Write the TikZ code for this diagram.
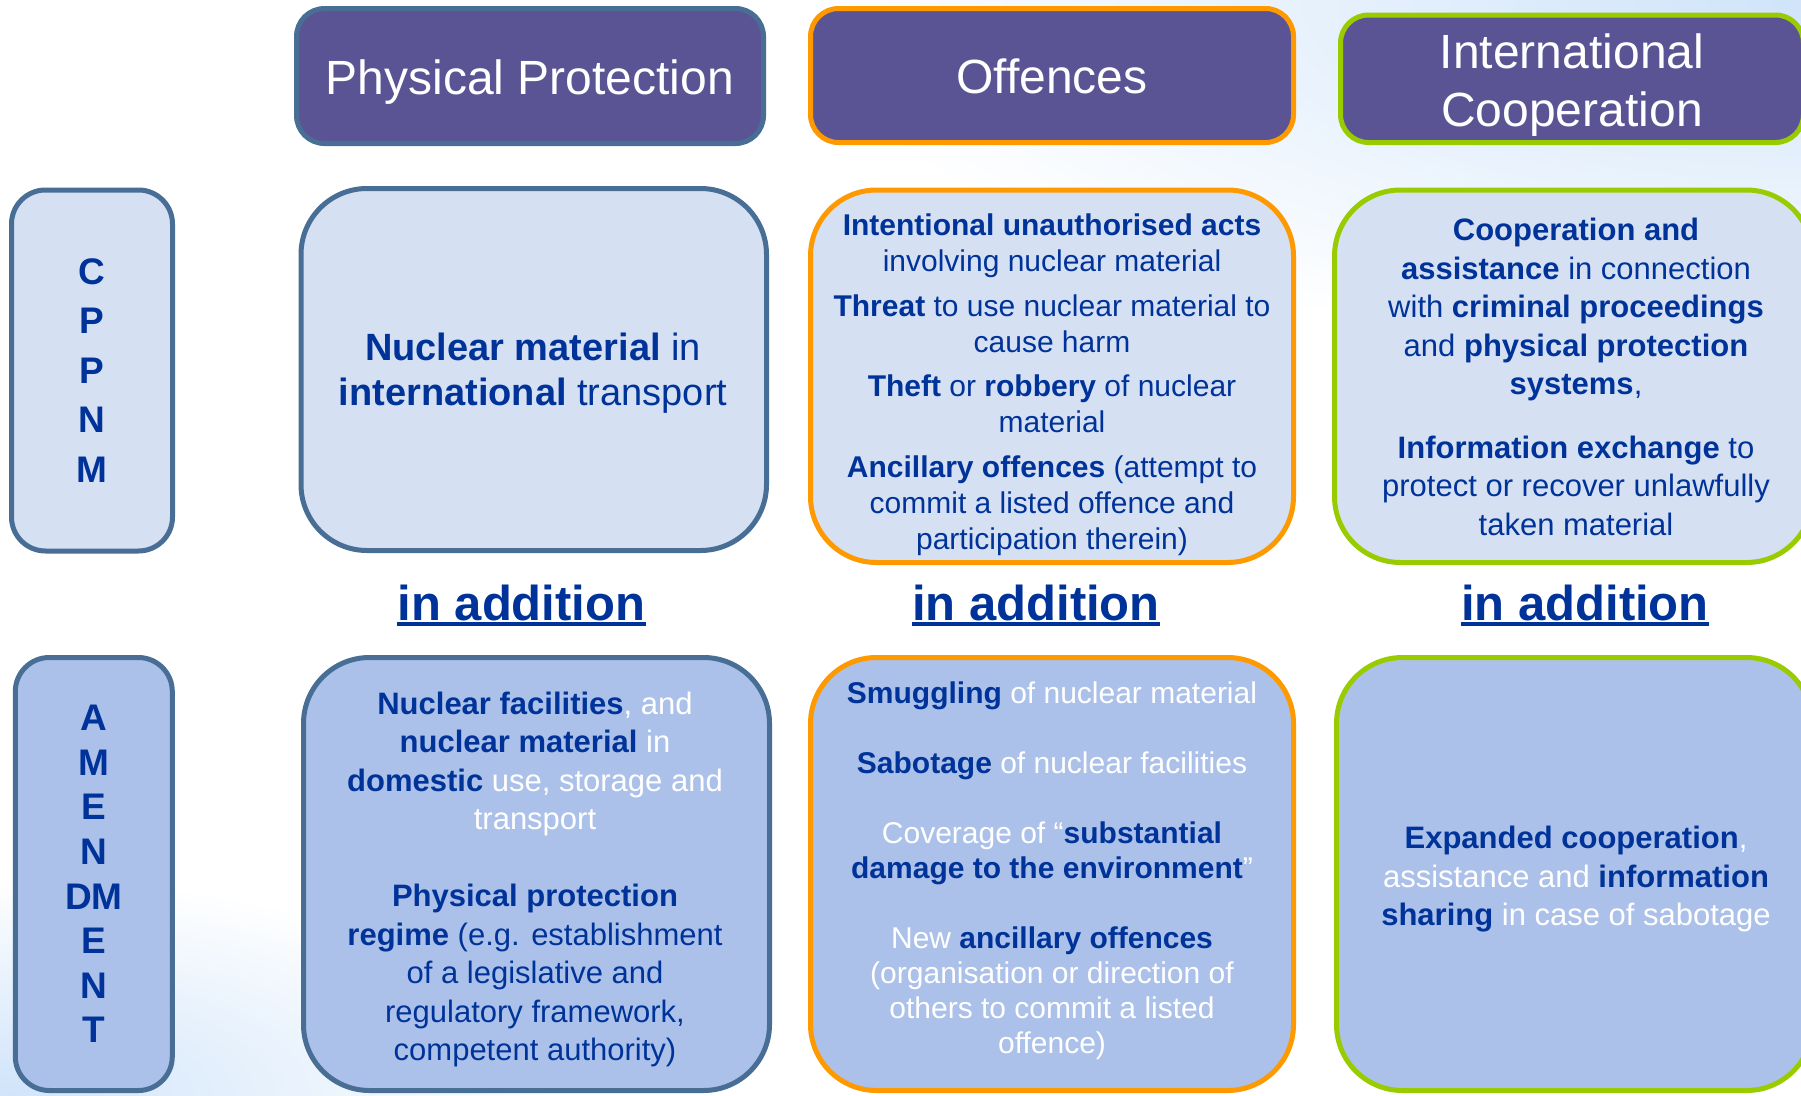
\documentclass[tikz,border=0pt]{standalone}
\usepackage{fontspec}
\setmainfont{Liberation Sans}
\definecolor{hdr}{RGB}{91,84,148}
\definecolor{steel}{RGB}{72,110,150}
\definecolor{orng}{RGB}{255,153,0}
\definecolor{grn}{RGB}{153,204,0}
\definecolor{lite}{RGB}{214,224,243}
\definecolor{midb}{RGB}{172,193,233}
\definecolor{navy}{RGB}{0,51,153}
\definecolor{bgblue}{RGB}{208,228,250}
\newcommand{\wt}[1]{\textcolor{white}{#1}}
\begin{document}
\begin{tikzpicture}[x=1pt,y=-1pt,
  hbox/.style={draw, fill=hdr, line width=5pt, rounded corners=28pt, inner sep=0pt},
  htxt/.style={inner sep=0pt, text=white, align=center, font=\fontsize{48}{58.5}\selectfont},
  sbox/.style={draw=steel, line width=5pt, rounded corners=34pt, inner sep=0pt, text=navy, align=center, font=\bfseries\fontsize{37}{49.5}\selectfont},
  cbox/.style={draw, line width=5pt, rounded corners=66pt, inner sep=0pt},
  btxt/.style={inner sep=0pt, text=navy, align=center},
  addn/.style={inner sep=0pt, anchor=base, text=navy, font=\bfseries\fontsize{49}{58}\selectfont},
  uline/.style={navy, line width=4.5pt}]
\useasboundingbox (0,0) rectangle (1801,1095);
\clip (0,0) rectangle (1801,1095);
\fill[white] (0,0) rectangle (1801,1095);
\shade[inner color=bgblue, outer color=white] (1801,0) ellipse (1000pt and 360pt);
\shade[inner color=bgblue, outer color=white] (0,1095) ellipse (550pt and 220pt);

% headers
\node[hbox, draw=steel, minimum width=467pt, minimum height=135pt] (h1) at (530,76) {};
\node[hbox, draw=orng, minimum width=483pt, minimum height=134pt] (h2) at (1052,75.5) {};
\node[hbox, draw=grn, minimum width=463pt, minimum height=127.5pt] (h3) at (1572,78.75) {};
\node[htxt] (h1t) at (530,82) {Physical Protection};
\node[htxt] (h2t) at (1052,76) {Offences};
\node[htxt] (h3t) at (1572,85) {International\\Cooperation};

% side boxes
\node[sbox, fill=lite, minimum width=161pt, minimum height=361pt] (s1) at (92,370.5) {C\\P\\P\\N\\M};
\node[sbox, fill=midb, minimum width=157pt, minimum height=433pt, font=\bfseries\fontsize{37}{44.6}\selectfont] (s2) at (93.8,874) {A\\M\\E\\N\\DM\\E\\N\\T};

% content boxes
\node[cbox, draw=steel, fill=lite, minimum width=465.5pt, minimum height=362pt] (b11) at (533.75,369.5) {};
\node[cbox, draw=orng, fill=lite, minimum width=483pt, minimum height=372.5pt] (b12) at (1052,376.25) {};
\node[cbox, draw=grn, fill=lite, minimum width=478pt, minimum height=372.5pt] (b13) at (1573.5,376.25) {};
\node[cbox, draw=steel, fill=midb, minimum width=466pt, minimum height=433pt] (b21) at (536.5,874) {};
\node[cbox, draw=orng, fill=midb, minimum width=483pt, minimum height=433pt] (b22) at (1052,874) {};
\node[cbox, draw=grn, fill=midb, minimum width=476pt, minimum height=433pt] (b23) at (1574.5,874) {};

% texts
\node[btxt, font=\fontsize{38}{45}\selectfont] (t11) at (533,373) {\textbf{Nuclear material} in\\ \textbf{international} transport};
\node[btxt, font=\fontsize{30}{36}\selectfont] (t12) at (1052,384.5) {\textbf{Intentional unauthorised acts}\\ involving nuclear material\\[9pt]
\textbf{Threat} to use nuclear material to\\ cause harm\\[8pt]
\textbf{Theft} or \textbf{robbery} of nuclear\\ material\\[9pt]
\textbf{Ancillary offences} (attempt to\\ commit a listed offence and\\ participation therein)};
\node[btxt, font=\fontsize{31}{38.5}\selectfont] (t13) at (1576,377) {\textbf{Cooperation and}\\ \textbf{assistance} in connection\\ with \textbf{criminal proceedings}\\ and \textbf{physical protection}\\ \textbf{systems},\\[25pt]
\textbf{Information exchange} to\\ protect or recover unlawfully\\ taken material};
\node[btxt, font=\fontsize{31}{38.5}\selectfont] (t21) at (535,879.5) {\textbf{Nuclear facilities}\wt{, and}\\ \textbf{nuclear material} \wt{in}\\ \textbf{domestic} \wt{use, storage and}\\ \wt{transport}\\[38.5pt]
\textbf{Physical protection}\\ \textbf{regime} (e.g. establishment\\ of a legislative and\\ regulatory framework,\\ competent authority)};
\node[btxt, font=\fontsize{30}{35}\selectfont] (t22) at (1052,870.5) {\textbf{Smuggling} \wt{of nuclear material}\\[35pt]
\textbf{Sabotage} \wt{of nuclear facilities}\\[35pt]
\wt{Coverage of “}\textbf{substantial}\\ \textbf{damage to the environment}\wt{”}\\[35pt]
\wt{New} \textbf{ancillary offences}\\ \wt{(organisation or direction of}\\ \wt{others to commit a listed}\\ \wt{offence)}};
\node[btxt, font=\fontsize{31}{38.5}\selectfont] (t23) at (1576,879.5) {\textbf{Expanded cooperation}\wt{,}\\ \wt{assistance and} \textbf{information}\\ \textbf{sharing} \wt{in case of sabotage}};

% in addition
\node[addn] (a1) at (521.5,620) {in addition};
\node[addn] (a2) at (1036,620) {in addition};
\node[addn] (a3) at (1585,620) {in addition};
\foreach \n in {a1,a2,a3}
  \draw[uline] ([yshift=-4pt]\n.base west) -- ([yshift=-4pt]\n.base east);
\end{tikzpicture}
\end{document}
